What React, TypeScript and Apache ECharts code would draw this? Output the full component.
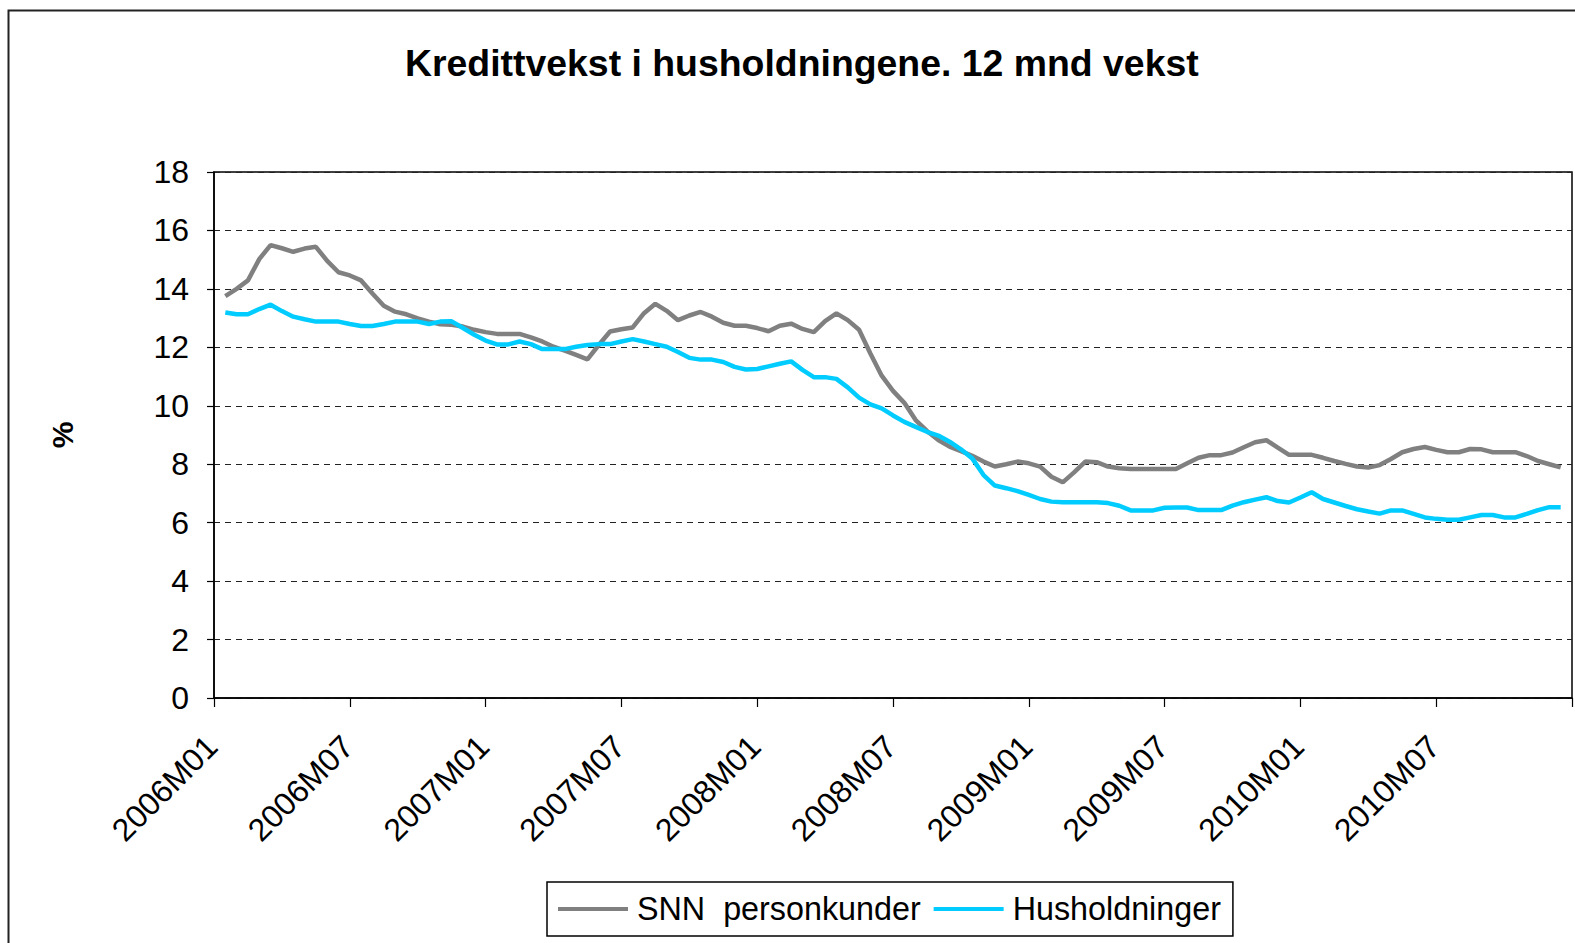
import React, { useEffect, useRef } from "react";
import * as echarts from "echarts";

const titleText = "Kredittvekst i husholdningene. 12 mnd vekst";
const seriesNames = ["SNN  personkunder", "Husholdninger"];
const tickLabels = [
  "2006M01", "2006M07", "2007M01", "2007M07", "2008M01",
  "2008M07", "2009M01", "2009M07", "2010M01", "2010M07",
];

const snnValues = [
  13.75, 14.0, 14.29, 15.02, 15.5, 15.39, 15.27, 15.38, 15.44, 14.96,
  14.57, 14.46, 14.29, 13.84, 13.42, 13.22, 13.13, 12.99, 12.88, 12.79,
  12.77, 12.71, 12.6, 12.52, 12.46, 12.46, 12.46, 12.34, 12.2, 12.02,
  11.89, 11.74, 11.59, 12.08, 12.54, 12.62, 12.68, 13.17, 13.49, 13.25,
  12.93, 13.09, 13.21, 13.05, 12.84, 12.74, 12.74, 12.66, 12.55, 12.74,
  12.81, 12.63, 12.52, 12.9, 13.16, 12.93, 12.6, 11.79, 11.03, 10.51,
  10.1, 9.51, 9.14, 8.83, 8.6, 8.45, 8.29, 8.09, 7.92, 8.0,
  8.09, 8.03, 7.92, 7.57, 7.38, 7.72, 8.09, 8.07, 7.92, 7.86,
  7.84, 7.84, 7.84, 7.84, 7.84, 8.03, 8.22, 8.31, 8.31, 8.4,
  8.58, 8.75, 8.82, 8.57, 8.32, 8.32, 8.32, 8.22, 8.11, 8.01,
  7.92, 7.89, 7.97, 8.18, 8.41, 8.52, 8.59, 8.49, 8.41, 8.41,
  8.52, 8.51, 8.41, 8.41, 8.41, 8.28, 8.11, 8.0, 7.89,
];

const husValues = [
  13.19, 13.13, 13.13, 13.31, 13.46, 13.24, 13.05, 12.96, 12.88, 12.88,
  12.88, 12.8, 12.73, 12.73, 12.8, 12.88, 12.88, 12.88, 12.8, 12.88,
  12.89, 12.66, 12.43, 12.23, 12.1, 12.1, 12.2, 12.11, 11.94, 11.94,
  11.94, 12.02, 12.08, 12.11, 12.11, 12.2, 12.28, 12.2, 12.11, 12.02,
  11.84, 11.64, 11.58, 11.58, 11.5, 11.33, 11.24, 11.26, 11.35, 11.44,
  11.52, 11.23, 10.98, 10.98, 10.92, 10.63, 10.28, 10.05, 9.91, 9.67,
  9.45, 9.28, 9.11, 8.98, 8.77, 8.51, 8.2, 7.63, 7.27, 7.18,
  7.08, 6.95, 6.81, 6.72, 6.7, 6.7, 6.7, 6.7, 6.67, 6.58,
  6.42, 6.42, 6.42, 6.51, 6.52, 6.52, 6.43, 6.43, 6.43, 6.58,
  6.7, 6.79, 6.87, 6.74, 6.69, 6.86, 7.04, 6.81, 6.69, 6.57,
  6.46, 6.38, 6.31, 6.42, 6.42, 6.3, 6.18, 6.13, 6.1, 6.1,
  6.18, 6.26, 6.26, 6.18, 6.18, 6.3, 6.43, 6.53, 6.53,
];

const colors = ["#808080", "#00CCFF"];
const FONT = "'Liberation Sans', Arial, sans-serif";

export default function App() {
  const ref = useRef<HTMLDivElement>(null);
  useEffect(() => {
    if (!ref.current) return;
    const chart = echarts.init(ref.current, undefined, { renderer: "svg" });
    const stepsPerLabel = 12;
    const nCats = tickLabels.length * stepsPerLabel + 1;
    const categories: string[] = [];
    for (let i = 0; i < nCats; i++) {
      categories.push(i % stepsPerLabel === 0 && i / stepsPerLabel < tickLabels.length ? tickLabels[i / stepsPerLabel] : "c" + i);
    }
    const pad = (arr: number[]) => {
      const out: (number | null)[] = [null, ...arr];
      while (out.length < nCats) out.push(null);
      return out;
    };
    chart.setOption({
      animation: false,
      backgroundColor: "#fff",
      textStyle: { fontFamily: FONT },
      title: {
        text: titleText,
        left: 400,
        top: 39,
        textStyle: { fontSize: 37.4, fontWeight: "bold", color: "#000", fontFamily: FONT },
      },
      graphic: [
        {
          type: "rect",
          shape: { x: 8.5, y: 10.5, width: 1600, height: 1000 },
          style: { fill: "none", stroke: "#222", lineWidth: 2 },
          silent: true,
          z: -1,
        },
      ],
      legend: {
        left: 547,
        top: 882,
        orient: "horizontal",
        borderColor: "#000",
        borderWidth: 1.5,
        padding: [11, 12, 11, 11],
        itemWidth: 70,
        itemHeight: 4,
        itemGap: 13,
        icon: "rect",
        textStyle: { fontSize: 32.3, color: "#000", fontFamily: FONT, padding: [0, 0, 0, 4] },
        data: seriesNames,
      },
      grid: {
        left: 214,
        top: 172,
        width: 1358,
        height: 526,
        show: true,
        borderColor: "#000",
        borderWidth: 1.5,
        backgroundColor: "#fff",
      },
      xAxis: {
        type: "category",
        boundaryGap: false,
        data: categories,
        axisLine: { lineStyle: { color: "#000", width: 1.5 } },
        axisTick: {
          interval: (i: number) => i % stepsPerLabel === 0,
          length: 9,
          lineStyle: { color: "#000", width: 1.2 },
        },
        axisLabel: {
          interval: (i: number) => i % stepsPerLabel === 0 && i / stepsPerLabel < tickLabels.length,
          rotate: 45,
          fontSize: 32,
          color: "#000",
          margin: 41,
          padding: [0, 3, 0, 0],
          fontFamily: FONT,
        },
        splitLine: { show: false },
      },
      yAxis: {
        type: "value",
        min: 0,
        max: 18,
        interval: 2,
        name: "%",
        nameLocation: "middle",
        nameRotate: 90,
        nameGap: 137,
        nameTextStyle: { fontSize: 30, fontWeight: "bold", color: "#000", fontFamily: FONT },
        axisLine: { show: true, lineStyle: { color: "#000", width: 1.5 } },
        axisTick: { show: true, length: 7, lineStyle: { color: "#000", width: 1.2 } },
        axisLabel: { fontSize: 32, color: "#000", margin: 25, fontFamily: FONT },
        splitLine: { show: true, lineStyle: { color: "#222", width: 1, type: [6, 5] } },
      },
      series: [
        {
          name: seriesNames[0],
          type: "line",
          data: pad(snnValues),
          symbol: "none",
          color: colors[0],
          lineStyle: { color: colors[0], width: 4.5 },
        },
        {
          name: seriesNames[1],
          type: "line",
          data: pad(husValues),
          symbol: "none",
          color: colors[1],
          lineStyle: { color: colors[1], width: 4.5 },
        },
      ],
    });
    return () => chart.dispose();
  }, []);
  return (
    <div
      ref={ref}
      style={{ position: "fixed", left: 0, top: 0, width: 1575, height: 943, background: "#fff" }}
    />
  );
}
